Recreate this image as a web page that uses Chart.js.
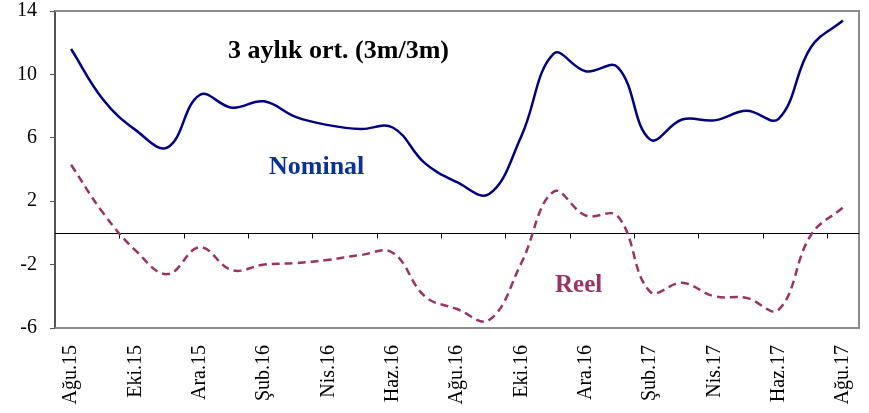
<!DOCTYPE html>
<html>
<head>
<meta charset="utf-8">
<script src="https://cdn.jsdelivr.net/npm/chart.js@4.4.1/dist/chart.umd.min.js"></script>
<style>
  body { margin: 0; background: #fff; }
</style>
</head>
<body>
<canvas id="chart" width="869" height="413"></canvas>
<script>
const months = ['Ağu.15', 'Eyl.15', 'Eki.15', 'Kas.15', 'Ara.15', 'Oca.16', 'Şub.16', 'Mar.16', 'Nis.16', 'May.16',
  'Haz.16', 'Tem.16', 'Ağu.16', 'Eyl.16', 'Eki.16', 'Kas.16', 'Ara.16', 'Oca.17', 'Şub.17', 'Mar.17',
  'Nis.17', 'May.17', 'Haz.17', 'Tem.17', 'Ağu.17'];
const nominal = [11.6, 8.4, 6.5, 5.4, 8.7, 7.9, 8.3, 7.3, 6.8, 6.55,
  6.65, 4.4, 3.2, 2.45, 6.1, 11.3, 10.2, 10.45, 5.9, 7.15,
  7.1, 7.7, 7.2, 11.7, 13.4];
const reel = [4.3, 1.25, -1.1, -2.6, -0.9, -2.35, -2.0, -1.9, -1.7, -1.4,
  -1.25, -4.0, -4.8, -5.5, -1.9, 2.6, 1.1, 1.05, -3.7, -3.15,
  -4.0, -4.1, -4.85, -0.15, 1.6];
const yTicks = [-6, -2, 2, 6, 10, 14];

const serif = '"Liberation Serif", "Times New Roman", serif';

// zero line with tick marks every 2 months, plot frame and the text labels
const overlay = {
  id: 'overlay',
  beforeDatasetsDraw(chart) {
    const { ctx, chartArea } = chart;
    ctx.save();
    ctx.strokeStyle = '#8c8c8c';
    ctx.lineWidth = 2;
    ctx.beginPath();
    ctx.moveTo(chartArea.left, chartArea.top);
    ctx.lineTo(chartArea.right, chartArea.top);
    ctx.lineTo(chartArea.right, chartArea.bottom);
    ctx.lineTo(chartArea.left, chartArea.bottom);
    ctx.stroke();

    const x = chart.scales.x;
    const y0 = Math.round(chart.scales.y.getPixelForValue(0)) + 0.5;
    ctx.strokeStyle = '#000';
    ctx.lineWidth = 1;
    ctx.beginPath();
    ctx.moveTo(chartArea.left, y0);
    ctx.lineTo(chartArea.right, y0);
    for (let i = 2; i < months.length; i += 2) {
      const px = Math.round((x.getPixelForValue(i - 1) + x.getPixelForValue(i)) / 2) + 0.5;
      ctx.moveTo(px, y0);
      ctx.lineTo(px, y0 + 5);
    }
    ctx.stroke();
    ctx.restore();
  },
  afterDatasetsDraw(chart) {
    const { ctx } = chart;
    ctx.save();
    ctx.textAlign = 'left';
    ctx.textBaseline = 'alphabetic';
    ctx.font = 'bold 26px ' + serif;
    ctx.fillStyle = '#000';
    ctx.fillText('3 aylık ort. (3m/3m)', 228, 58);
    ctx.fillStyle = '#0a3296';
    ctx.fillText('Nominal', 269, 174);
    ctx.font = 'bold 25px ' + serif;
    ctx.fillStyle = '#993366';
    ctx.fillText('Reel', 555, 292);
    ctx.restore();
  }
};

new Chart(document.getElementById('chart'), {
  type: 'line',
  data: {
    labels: months,
    datasets: [
      {
        label: 'Nominal',
        data: nominal,
        borderColor: '#000080',
        borderWidth: 2.5,
        pointRadius: 0,
        tension: 0.4,
        fill: false
      },
      {
        label: 'Reel',
        data: reel,
        borderColor: '#993366',
        borderWidth: 2.5,
        borderDash: [8, 5],
        pointRadius: 0,
        tension: 0.4,
        fill: false
      }
    ]
  },
  options: {
    responsive: false,
    animation: false,
    layout: { padding: { top: 11, right: 10, left: 0, bottom: 0 } },
    plugins: {
      legend: { display: false },
      tooltip: { enabled: false }
    },
    scales: {
      x: {
        offset: true,
        grid: { display: false, drawTicks: false },
        border: { display: false },
        ticks: {
          autoSkip: false,
          maxRotation: 90,
          minRotation: 90,
          padding: 17,
          color: '#000',
          font: { family: serif, size: 20 },
          callback: (v, i) => (i % 2 === 0 ? months[i] : '')
        },
        afterFit: (s) => { s.height = 85; s.paddingLeft = 0; s.paddingRight = 0; }
      },
      y: {
        min: -6,
        max: 14,
        afterBuildTicks: (s) => { s.ticks = yTicks.map(v => ({ value: v })); },
        grid: { drawOnChartArea: false, drawTicks: true, tickLength: 5, color: '#555' },
        border: { display: true, color: '#555', width: 2 },
        ticks: {
          padding: 13,
          color: '#000',
          font: { family: serif, size: 20 }
        },
        afterFit: (s) => { s.width = 55; s.paddingTop = 0; s.paddingBottom = 0; }
      }
    }
  },
  plugins: [overlay]
});
</script>
</body>
</html>
